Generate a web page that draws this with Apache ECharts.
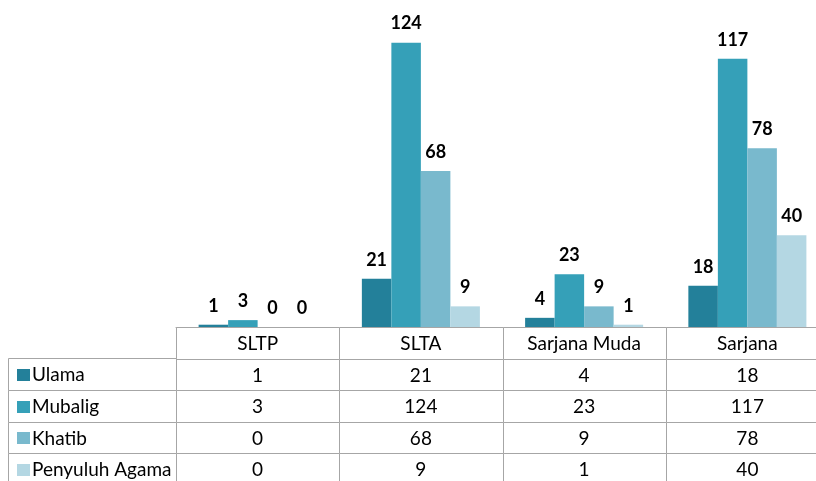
<!DOCTYPE html>
<html>
<head>
<meta charset="utf-8">
<script src="https://cdn.jsdelivr.net/npm/echarts@6/dist/echarts.min.js"></script>
<style>html,body{margin:0;padding:0;background:#fff;}#chart{width:816px;height:481px;}</style>
</head>
<body>
<div id="chart"></div>
<script>
var categories = ['SLTP', 'SLTA', 'Sarjana Muda', 'Sarjana'];
var seriesNames = ['Ulama', 'Mubalig', 'Khatib', 'Penyuluh Agama'];
var ulama = [1, 21, 4, 18];
var mubalig = [3, 124, 23, 117];
var khatib = [0, 68, 9, 78];
var penyuluh = [0, 9, 1, 40];
var colors = ['#23809a', '#35a0b8', '#79b9cd', '#b4d7e3'];

var values = [ulama, mubalig, khatib, penyuluh];
var FONT = 'Lato, "Noto Sans", sans-serif';
var BORDER = '#a6a6a6';

// table cell data: [col, row]; row 0 = header
var cellData = [];
var cellText = [];
categories.forEach(function (c, j) { cellData.push([j, 0]); cellText.push(c); });
values.forEach(function (arr, i) {
  arr.forEach(function (v, j) { cellData.push([j, i + 1]); cellText.push(String(v)); });
});
var rowHeadData = seriesNames.map(function (n, i) { return [0, i]; });

function px(v) { return Math.round(v) + 0.5; }

function renderCell(params, api) {
  var c = api.coord([api.value(0), api.value(1)]);
  var s = api.size([1, 1]);
  var x0 = px(c[0] - s[0] / 2), y0 = px(c[1] - s[1] / 2);
  var x1 = px(c[0] + s[0] / 2), y1 = px(c[1] + s[1] / 2);
  return {
    type: 'group',
    children: [
      { type: 'rect', shape: { x: x0, y: y0, width: x1 - x0, height: y1 - y0 },
        style: { fill: '#fff', stroke: BORDER, lineWidth: 1 } },
      { type: 'text', x: c[0], y: c[1] + 1,
        style: { text: cellText[params.dataIndex], align: 'center', verticalAlign: 'middle',
                 font: '19px ' + FONT, fill: '#000' } }
    ]
  };
}

function renderRowHead(params, api) {
  var c = api.coord([api.value(0), api.value(1)]);
  var s = api.size([1, 1]);
  var x0 = px(c[0] - s[0] / 2), y0 = px(c[1] - s[1] / 2);
  var x1 = px(c[0] + s[0] / 2), y1 = px(c[1] + s[1] / 2);
  var i = params.dataIndex;
  return {
    type: 'group',
    children: [
      { type: 'rect', shape: { x: x0, y: y0, width: x1 - x0, height: y1 - y0 },
        style: { fill: '#fff', stroke: BORDER, lineWidth: 1 } },
      { type: 'rect', shape: { x: Math.round(x0) + 8, y: Math.round(c[1]) - 5, width: 13, height: 12 },
        style: { fill: colors[i] } },
      { type: 'text', x: Math.round(x0) + 23, y: c[1] + 1,
        style: { text: seriesNames[i], align: 'left', verticalAlign: 'middle',
                 font: '19px ' + FONT, fill: '#000' } }
    ]
  };
}

var chart = echarts.init(document.getElementById('chart'), null, { renderer: 'canvas' });

var barSeries = seriesNames.map(function (name, i) {
  return {
    name: name, type: 'bar', xAxisIndex: 0, yAxisIndex: 0,
    data: values[i], barGap: 0, barCategoryGap: '27.7%',
    itemStyle: { color: colors[i] },
    label: { show: true, position: 'top', distance: 10, color: '#000',
             fontFamily: FONT, fontWeight: 'bold', fontSize: 18 },
    emphasis: { disabled: true },
    z: 2
  };
});

chart.setOption({
  animation: false,
  backgroundColor: '#fff',
  grid: [
    { left: 176, width: 653, top: 6, height: 321, outerBoundsMode: 'none', containLabel: false },
    { left: 176, width: 653, top: 327, height: 158, outerBoundsMode: 'none', containLabel: false },
    { left: 8, width: 168, top: 358, height: 127, outerBoundsMode: 'none', containLabel: false }
  ],
  xAxis: [
    { gridIndex: 0, type: 'category', data: categories,
      axisLine: { show: true, lineStyle: { color: BORDER } },
      axisTick: { show: false }, axisLabel: { show: false } },
    { gridIndex: 1, type: 'category', data: categories, show: false },
    { gridIndex: 2, type: 'category', data: [''], show: false }
  ],
  yAxis: [
    { gridIndex: 0, type: 'value', min: 0, max: 140, show: false, splitLine: { show: false } },
    { gridIndex: 1, type: 'category', data: ['header'].concat(seriesNames), inverse: true, show: false },
    { gridIndex: 2, type: 'category', data: seriesNames, inverse: true, show: false }
  ],
  series: barSeries.concat([
    { type: 'custom', xAxisIndex: 1, yAxisIndex: 1, data: cellData, renderItem: renderCell, silent: true, z: 1, clip: false },
    { type: 'custom', xAxisIndex: 2, yAxisIndex: 2, data: rowHeadData, renderItem: renderRowHead, silent: true, z: 1, clip: false }
  ])
});
</script>
</body>
</html>
